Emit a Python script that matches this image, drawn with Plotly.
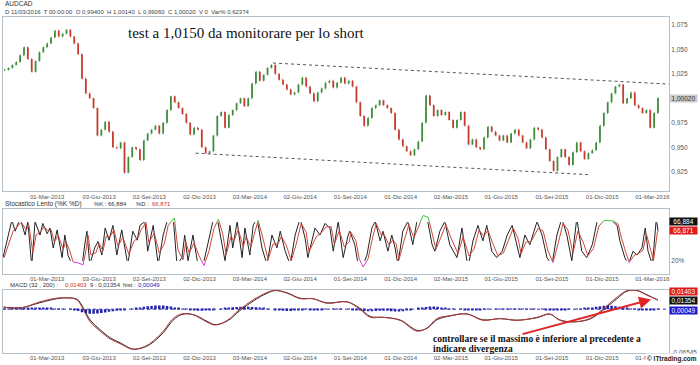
import plotly.graph_objects as go
import pandas as pd

# ---------------- DATA ----------------
# weekly closes AUDCAD, last week ends 2016-03-11
close = [
    1.029, 1.031, 1.034, 1.037, 1.044, 1.052, 1.040, 1.027, 1.038, 1.047,
    1.052, 1.056, 1.062, 1.069, 1.063, 1.066, 1.070, 1.063, 1.056, 1.045,
    1.020, 1.005, 1.000, 0.990, 0.962, 0.968, 0.976, 0.966, 0.950, 0.949,
    0.955, 0.924, 0.940, 0.950, 0.948, 0.937, 0.957, 0.964, 0.968, 0.972,
    0.964, 0.975, 0.988, 1.002, 0.996, 0.990, 0.984, 0.975, 0.963, 0.970,
    0.968, 0.950, 0.944, 0.946, 0.962, 0.982, 0.986, 0.970, 0.983, 0.988,
    0.995, 1.000, 0.992, 1.000, 1.015, 1.027, 1.018, 1.024, 1.031, 1.034,
    1.025, 1.019, 1.014, 1.009, 1.004, 1.006, 1.014, 1.021, 1.012, 1.005,
    0.997, 1.006, 1.010, 1.016, 1.018, 1.011, 1.016, 1.021, 1.015, 1.018,
    1.012, 0.996, 0.982, 0.972, 0.980, 0.990, 0.993, 0.998, 0.993, 0.990,
    0.985, 0.968, 0.958, 0.951, 0.946, 0.942, 0.948, 0.956, 0.975, 1.003,
    0.993, 0.982, 0.988, 0.983, 0.986, 0.978, 0.970, 0.978, 0.986, 0.972,
    0.953, 0.958, 0.950, 0.948, 0.960, 0.971, 0.966, 0.962, 0.957, 0.962,
    0.955, 0.964, 0.968, 0.962, 0.955, 0.949, 0.958, 0.970, 0.968, 0.960,
    0.948, 0.936, 0.926, 0.940, 0.948, 0.940, 0.932, 0.945, 0.955, 0.946,
    0.938, 0.944, 0.947, 0.955, 0.972, 0.985, 0.996, 1.005, 1.012, 1.014,
    0.995, 1.000, 1.006, 0.993, 0.990, 0.985, 0.988, 0.970, 0.985, 1.0002,
]
last_date = "2016-03-11"

# dashed trend lines drawn by the analyst
upper_trend_dates = ["2014-04-14", "2016-03-31"]
upper_trend_vals = [1.036, 1.0145]
lower_trend_dates = ["2013-11-25", "2015-11-09"]
lower_trend_vals = [0.944, 0.922]

# Slow stochastic %K (turning points)
stoch_dates = [
    "2012-12-11", "2012-12-27", "2013-01-02", "2013-01-11", "2013-01-20", "2013-01-25", "2013-02-01", "2013-02-07",
    "2013-02-16", "2013-02-21", "2013-03-01", "2013-03-06", "2013-03-12", "2013-03-19", "2013-03-28", "2013-04-02",
    "2013-04-08", "2013-04-15", "2013-04-24", "2013-05-03", "2013-05-08", "2013-05-12", "2013-05-17", "2013-05-26",
    "2013-06-01", "2013-06-08", "2013-06-14", "2013-06-21", "2013-06-28", "2013-07-05", "2013-07-14", "2013-07-25",
    "2013-08-03", "2013-08-11", "2013-08-16", "2013-08-25", "2013-08-30", "2013-09-09", "2013-09-18", "2013-09-27",
    "2013-10-04", "2013-10-15", "2013-10-22", "2013-10-31", "2013-11-05", "2013-11-11", "2013-11-20", "2013-11-29",
    "2013-12-08", "2013-12-17", "2013-12-26", "2014-01-03", "2014-01-11", "2014-01-17", "2014-01-26", "2014-01-31",
    "2014-02-08", "2014-02-17", "2014-02-22", "2014-03-03", "2014-03-09", "2014-03-16", "2014-03-25", "2014-04-03",
    "2014-04-12", "2014-04-21", "2014-04-27", "2014-05-06", "2014-05-15", "2014-05-24", "2014-06-02", "2014-06-11",
    "2014-06-16", "2014-06-29", "2014-07-08", "2014-07-17", "2014-07-26", "2014-08-01", "2014-08-10", "2014-08-19",
    "2014-08-28", "2014-08-31", "2014-09-09", "2014-09-15", "2014-09-22", "2014-10-01", "2014-10-10", "2014-10-16",
    "2014-10-25", "2014-10-30", "2014-11-08", "2014-11-15", "2014-11-21", "2014-11-26", "2014-12-05", "2014-12-14",
    "2014-12-23", "2015-01-01", "2015-01-09", "2015-01-18", "2015-01-27", "2015-02-01", "2015-02-10", "2015-02-19",
    "2015-02-28", "2015-03-13", "2015-03-22", "2015-04-02", "2015-04-11", "2015-04-20", "2015-04-29", "2015-05-06",
    "2015-05-15", "2015-05-24", "2015-06-03", "2015-06-12", "2015-06-21", "2015-06-30", "2015-07-05", "2015-07-14",
    "2015-07-23", "2015-08-05", "2015-08-14", "2015-08-23", "2015-09-01", "2015-09-10", "2015-09-19", "2015-09-28",
    "2015-10-07", "2015-10-16", "2015-10-25", "2015-11-03", "2015-11-13", "2015-11-23", "2015-12-02", "2015-12-11",
    "2015-12-20", "2015-12-28", "2016-01-02", "2016-01-11", "2016-01-17", "2016-01-26", "2016-02-02", "2016-02-11",
    "2016-02-17", "2016-02-22", "2016-03-01", "2016-03-08", "2016-03-11",
]
stoch_k = [
    25, 83, 66, 86, 60, 81, 12, 81, 60, 78, 62, 71, 40, 68, 25, 60,
    28, 14, 18, 12, 45, 66, 14, 40, 50, 29, 71, 52, 75, 29, 68, 14,
    66, 52, 75, 81, 35, 75, 14, 60, 81, 89, 14, 25, 60, 20, 60, 14,
    12, 45, 81, 86, 51, 20, 75, 40, 81, 25, 71, 29, 75, 86, 40, 14,
    60, 40, 66, 35, 14, 60, 86, 55, 25, 71, 60, 78, 71, 35, 81, 25,
    60, 66, 45, 14, 9, 29, 71, 81, 51, 66, 35, 60, 40, 14, 66, 81,
    45, 89, 91, 86, 45, 35, 66, 81, 45, 25, 71, 9, 51, 75, 51, 75,
    35, 25, 35, 60, 75, 45, 25, 60, 45, 81, 60, 25, 14, 60, 86, 60,
    20, 86, 35, 25, 45, 86, 81, 83, 81, 75, 51, 25, 14, 35, 29, 40,
    71, 35, 14, 86, 66.884,
]
stoch_k_last = 66.884
stoch_d_last = 66.871

# MACD (32,200) and signal (9)
macd_dates = [
    "2012-12-12", "2013-01-12", "2013-02-16", "2013-03-19", "2013-04-06", "2013-04-24", "2013-05-05", "2013-05-18",
    "2013-06-05", "2013-06-23", "2013-07-11", "2013-08-01", "2013-08-16", "2013-09-03", "2013-09-27", "2013-10-15",
    "2013-10-31", "2013-11-20", "2013-12-15", "2013-12-30", "2014-01-21", "2014-02-13", "2014-03-09", "2014-04-03",
    "2014-04-18", "2014-05-10", "2014-06-02", "2014-06-25", "2014-07-21", "2014-08-26", "2014-09-18", "2014-10-07",
    "2014-10-30", "2014-11-30", "2014-12-31", "2015-01-18", "2015-02-05", "2015-02-28", "2015-03-31", "2015-04-29",
    "2015-05-30", "2015-06-30", "2015-08-05", "2015-08-28", "2015-09-15", "2015-10-09", "2015-11-09", "2015-12-02",
    "2015-12-28", "2016-01-15", "2016-02-02", "2016-02-20", "2016-03-11",
]
macd_line = [
    0.0032, 0.0018, 0.0112, 0.0168, 0.0172, 0.0140, 0.0000, -0.0192,
    -0.0332, -0.0448, -0.0518, -0.0602, -0.0588, -0.0518, -0.0332, -0.0140,
    -0.0070, -0.0084, -0.0192, -0.0238, -0.0168, 0.0000, 0.0140, 0.0252,
    0.0284, 0.0238, 0.0158, 0.0158, 0.0088, 0.0112, 0.0000, -0.0122,
    -0.0122, -0.0168, -0.0332, -0.0280, -0.0140, -0.0098, -0.0070, -0.0168,
    -0.0140, -0.0168, -0.0122, -0.0070, -0.0168, -0.0192, -0.0140, 0.0000,
    0.0182, 0.0280, 0.0280, 0.0210, 0.01403,
]
signal_line = [
    0.0030, 0.0020, 0.0098, 0.0158, 0.0170, 0.0150, 0.0025, -0.0165,
    -0.0310, -0.0430, -0.0505, -0.0595, -0.0592, -0.0530, -0.0355, -0.0165,
    -0.0080, -0.0080, -0.0180, -0.0232, -0.0178, -0.0020, 0.0122, 0.0240,
    0.0280, 0.0245, 0.0165, 0.0158, 0.0095, 0.0110, 0.0015, -0.0110,
    -0.0122, -0.0162, -0.0318, -0.0288, -0.0158, -0.0103, -0.0072, -0.0160,
    -0.0143, -0.0165, -0.0128, -0.0075, -0.0160, -0.0190, -0.0148, -0.0018,
    0.0160, 0.0272, 0.0282, 0.0218, 0.01354,
]
# weekly histogram (thousandths)
hist_milli = [
    0.5, 0.8, 1.2, 1.5, 1.8, 1.5, 1.2, 1.5, 1.8, 2.0, 1.8, 1.5, 1.2, 0.9, 0.8, 0.5, 0.0, -0.5,
    -1.2, -2.7, -4.5, -6.0, -6.8, -6.9, -6.3, -5.7, -4.8, -3.9, -3.0, -2.3, -1.5,
    -0.8, 0.0, 0.9, 1.8,
    2.7, 3.6, 4.4, 5.0, 5.4, 5.7, 5.6, 5.0, 3.9, 2.7, 1.5, 0.5, -0.5,
    -1.2, -1.8, -2.3, -2.4, -2.1, -1.5, -0.8, 0.0, 0.8,
    1.5, 2.3, 3.0, 3.5, 3.8, 3.9, 3.8, 3.5, 3.0, 2.4, 1.7, 0.9,
    0.0, -0.9, -1.8, -2.4, -2.7, -2.6, -2.0, -1.4,
    -0.8, -0.5, -0.8, -1.1, -1.2, -0.9, -0.5, 0.0, 0.3, 0.5, 0.3, 0.0, -0.3,
    -0.9, -1.5, -2.1, -2.7, -3.0, -3.0, -2.7, -2.4, -2.3, -2.4, -2.9, -3.3, -3.5, -3.0, -2.1, -1.2,
    0.0, 1.2, 2.4, 3.5, 4.2, 4.2, 3.6, 2.7, 1.8,
    0.9, 0.5, 0.0, -0.5, -0.9, -1.2, -1.4, -1.2, -0.9, -0.6, -0.3, 0.0, 0.3, 0.5,
    0.6, 0.5, 0.3, 0.3, 0.5, 0.8, 0.9, 0.8, 0.5, 0.0, -0.5, -0.9, -1.2, -1.4,
    -1.4, -1.2, -0.9, -0.5, 0.0, 0.5, 0.9, 1.4, 2.0,
    2.7, 3.6, 4.5, 5.1, 5.4, 5.3, 4.5, 3.6, 2.6, 1.5,
    0.5, -0.5, -1.2, -1.8, -2.1, -1.8, -1.2, 0.49,
]

tick_dates = ["2013-03-01", "2013-06-03", "2013-09-02", "2013-12-02", "2014-03-03", "2014-06-02", "2014-09-01",
              "2014-12-01", "2015-03-02", "2015-06-01", "2015-09-01", "2015-12-01", "2016-03-01"]
tick_labels = ["01-Mar-2013", "03-Giu-2013", "02-Set-2013", "02-Dic-2013", "03-Mar-2014", "02-Giu-2014",
               "01-Set-2014", "01-Dic-2014", "02-Mar-2015", "01-Giu-2015", "01-Set-2015", "01-Dic-2015",
               "01-Mar-2016"]
price_ticks = [1.075, 1.050, 1.025, 0.975, 0.950, 0.925]
price_tick_labels = ["1,075", "1,050", "1,025", "0,975", "0,950", "0,925"]

# ---------------- BUILD ----------------
dates = pd.date_range(end=last_date, periods=len(close), freq="W-FRI")
opens = [close[0]] + close[:-1]
highs = [max(o, c) for o, c in zip(opens, close)]
lows = [min(o, c) for o, c in zip(opens, close)]

sk = pd.Series(stoch_k, index=pd.to_datetime(stoch_dates))
# %D: lagged smoothing of %K
sd_vals = (0.7 * sk + 0.3 * sk.shift(1).fillna(sk.iloc[0])).tolist()
sd_vals[-1] = stoch_d_last
sd_dates = list(sk.index + pd.Timedelta(days=2))
sd_dates[-1] = sk.index[-1]

hist = [h / 1000 for h in hist_milli]

GREEN, RED = "#3d8c3a", "#c63a2e"
FONT = "Liberation Sans"
XDOM = [0.0043, 0.9571]
D_MAIN = [0.4712, 0.9534]
D_STO = [0.2438, 0.4219]
D_MACD = [0.0247, 0.2000]
sto_h = D_STO[1] - D_STO[0]

fig = go.Figure()
fig.add_trace(go.Ohlc(
    x=dates, open=opens, high=highs, low=lows, close=close, tickwidth=0.15,
    increasing=dict(line=dict(color=GREEN, width=1.8)),
    decreasing=dict(line=dict(color=RED, width=1.8)),
    xaxis="x", yaxis="y", hoverinfo="skip"))
for dts, vals in [(upper_trend_dates, upper_trend_vals), (lower_trend_dates, lower_trend_vals)]:
    fig.add_trace(go.Scatter(x=dts, y=vals, mode="lines", xaxis="x", yaxis="y",
                             line=dict(color="#555555", width=1, dash="3px,3px")))

# stochastic
fig.add_trace(go.Scatter(x=sk.index, y=stoch_k, mode="lines", xaxis="x2", yaxis="y2",
                         line=dict(color="#222222", width=1)))
fig.add_trace(go.Scatter(x=sd_dates, y=sd_vals, mode="lines", xaxis="x2", yaxis="y2",
                         line=dict(color="#d0463c", width=1)))
fig.add_trace(go.Scatter(x=sd_dates, y=sd_vals, mode="lines", xaxis="x2", yaxis="y4",
                         line=dict(color="#3cc43c", width=1)))
fig.add_trace(go.Scatter(x=sd_dates, y=sd_vals, mode="lines", xaxis="x2", yaxis="y5",
                         line=dict(color="#d040d0", width=1)))

# MACD
fig.add_trace(go.Bar(x=dates, y=hist, xaxis="x3", yaxis="y3", marker=dict(color="#2020a8", line=dict(width=0))))
fig.add_trace(go.Scatter(x=macd_dates, y=signal_line, mode="lines", line_shape="spline", xaxis="x3", yaxis="y3",
                         line=dict(color="#2a2a2a", width=1)))
fig.add_trace(go.Scatter(x=macd_dates, y=macd_line, mode="lines", line_shape="spline", xaxis="x3", yaxis="y3",
                         line=dict(color="#b83a3a", width=1)))

axis_line = dict(showline=True, linecolor="#b4c0ca", linewidth=1, mirror=True, showgrid=False, zeroline=False,
                 ticks="", ticklen=0)
xcommon = dict(type="date", range=["2012-12-11", "2016-03-31"], tickvals=tick_dates, ticktext=tick_labels,
               tickfont=dict(family=FONT, size=6, color="#555"), ticklabelstandoff=-1, domain=XDOM, **axis_line)
yfont = dict(family=FONT, size=6.5, color="#555")
fig.update_layout(
    width=700, height=365, margin=dict(l=0, r=0, t=0, b=0),
    paper_bgcolor="white", plot_bgcolor="white", showlegend=False, bargap=0.35,
    xaxis=dict(anchor="y", rangeslider=dict(visible=False), **xcommon),
    xaxis2=dict(anchor="y2", matches="x", **xcommon),
    xaxis3=dict(anchor="y3", matches="x", **xcommon),
    yaxis=dict(domain=D_MAIN, range=[0.905, 1.0831], side="right", tickvals=price_ticks,
               ticktext=price_tick_labels, tickfont=yfont, anchor="x", **axis_line),
    yaxis2=dict(domain=D_STO, range=[0, 100], side="right", tickvals=[20], ticktext=["20%"],
                tickfont=yfont, anchor="x2", **axis_line),
    yaxis3=dict(domain=D_MACD, range=[-0.066, 0.0295], side="right", tickvals=[-0.06545], ticktext=["-0,06545"],
                tickfont=yfont, anchor="x3", **axis_line),
    yaxis4=dict(domain=[D_STO[0] + 0.8 * sto_h, D_STO[1]], range=[80, 100], visible=False, anchor="x2"),
    yaxis5=dict(domain=[D_STO[0], D_STO[0] + 0.2 * sto_h], range=[0, 20], visible=False, anchor="x2"),
)

fig.add_shape(type="line", xref="x3 domain", x0=0, x1=1, yref="y3", y0=0, y1=0,
              line=dict(color="#3030c0", width=1, dash="dot"))

def ptxt(x, y, text, size=6, color="#333", bold=False, family=FONT, **kw):
    if bold:
        text = "<b>" + text + "</b>"
    fig.add_annotation(xref="paper", yref="paper", x=x / 700, y=1 - y / 365, text=text, showarrow=False,
                       xanchor=kw.pop("xanchor", "left"), yanchor="middle",
                       font=dict(family=family, size=size, color=color), **kw)

ptxt(3, 4, "AUDCAD", size=6.5)
ptxt(3, 12.5, "D 11/03/2016  T 00:00:00  O 0,99400  H 1,00140  L 0,99060  C 1,00020  V 0  Var% 0,62374",
     size=6, color="#444")
ptxt(126, 33, "test a 1,0150 da monitorare per lo short", size=15, color="#111", family="Liberation Serif")
ptxt(3, 206, "Stocastico Lento (%K %D)", size=6.5)
ptxt(92, 206, "%K :")
ptxt(106, 206, "66,884")
ptxt(134, 206, "%D :")
ptxt(150, 206, "66,871", color="#d03030")
ptxt(8, 287.5, "MACD")
ptxt(27, 287.5, "(32 , 200) :")
ptxt(63, 287.5, "0,01403", color="#c03030")
ptxt(88, 287.5, "9 : 0,01354")
ptxt(121, 287.5, "hist :")
ptxt(136, 287.5, "0,00049", color="#2020b0")
ptxt(432, 341.5, "controllare se il massimo è inferiore al precedente a", size=9.5, color="#111", bold=True,
     family="Liberation Serif")
ptxt(432, 351.5, "indicare divergenza", size=9.5, color="#111", bold=True, family="Liberation Serif")
ptxt(700, 361.5, "© ITtrading.com", size=6.5, color="#222", bold=True, xanchor="right", bgcolor="white")

# value boxes on the right scales
def vbox(yref, yval, text, bg, fg="white", yshift=0):
    fig.add_annotation(xref="paper", x=0.957, yref=yref, y=yval, text=text, showarrow=False, xanchor="left",
                       yanchor="middle", yshift=yshift, bgcolor=bg, width=27, borderpad=0,
                       font=dict(family=FONT, size=6.5, color=fg))

vbox("y", close[-1], "1,00020", "#cccccc", fg="#333")
vbox("y2", stoch_d_last, "66,871", "#e01a1a")
vbox("y2", stoch_k_last, "66,884", "#111111", yshift=9)
vbox("y3", macd_line[-1], "0,01403", "#e01a1a", yshift=8)
vbox("y3", signal_line[-1], "0,01354", "#111111")
vbox("y3", hist[-1], "0,00049", "#1c1cd0", yshift=-2)

# red hand-drawn arrow
fig.add_annotation(xref="paper", yref="paper", x=652 / 700, y=1 - 302 / 365, ax=-130, ay=35, text="",
                   showarrow=True, arrowhead=2, arrowsize=1.2, arrowwidth=2, arrowcolor="#e02424")

fig.write_html("out.html", config={"displayModeBar": False},
               post_script="document.body.style.margin='0';")
